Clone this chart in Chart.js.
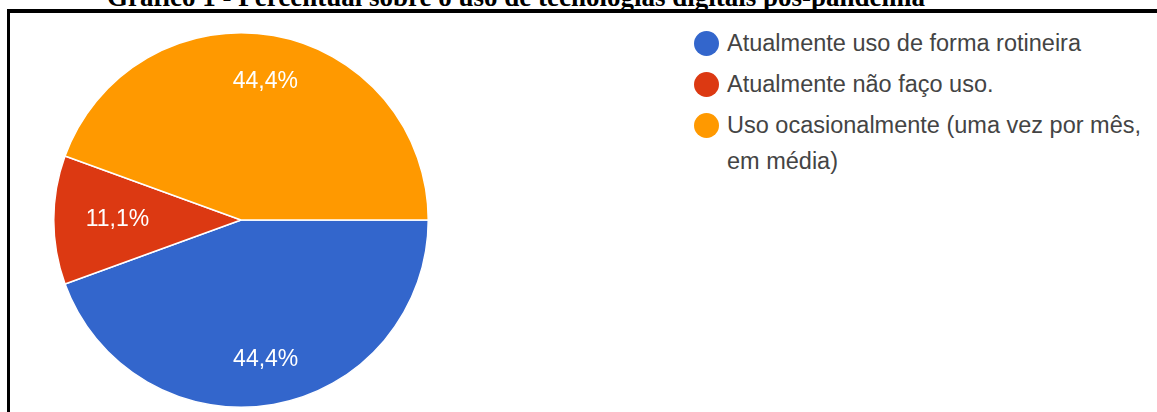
<!DOCTYPE html>
<html>
<head>
<meta charset="utf-8">
<script src="https://cdn.jsdelivr.net/npm/chart.js@4"></script>
<style>
  html, body { margin:0; padding:0; background:#fff; }
  body { width:1157px; height:412px; position:relative; overflow:hidden; }
  #title { position:absolute; left:107px; top:-18px; white-space:nowrap;
    font-family:"Liberation Serif","DejaVu Serif",serif; font-weight:bold; font-size:27px; color:#000; }
  #frame { position:absolute; left:7px; top:9px; width:1300px; height:600px;
    border-top:4px solid #000; border-left:3px solid #000; }
  #pieBox { position:absolute; left:53px; top:32px; width:376px; height:376px; }
  #legend { position:absolute; left:694px; top:25px; width:463px;
    font-family:"Liberation Sans", Arial, sans-serif; font-size:23.5px; color:#444; }
  .item { display:flex; align-items:flex-start; margin-bottom:5px; }
  .dot { width:25px; height:25px; border-radius:50%; flex:none; margin-top:5.5px; margin-right:8px; }
  .txt { line-height:36px; width:430px; }
</style>
</head>
<body>
<div id="title">Gráfico 1 - Percentual sobre o uso de tecnologias digitais pós-pandemia</div>
<div id="frame"></div>
<div id="pieBox"><canvas id="c"></canvas></div>
<div id="legend"></div>
<script>
const categories = [
  "Atualmente uso de forma rotineira",
  "Atualmente não faço uso.",
  "Uso ocasionalmente (uma vez por mês, em média)"
];
const percentages = [44.4, 11.1, 44.4];
const valueLabels = ["44,4%", "11,1%", "44,4%"];
const colors = ["#3366cc", "#dc3912", "#ff9900"];
const labelRadiusFactor = [0.76, 0.66, 0.75];

const legend = document.getElementById('legend');
categories.forEach((c, i) => {
  const it = document.createElement('div'); it.className = 'item';
  const d = document.createElement('span'); d.className = 'dot'; d.style.background = colors[i];
  const t = document.createElement('span'); t.className = 'txt'; t.textContent = c;
  it.appendChild(d); it.appendChild(t); legend.appendChild(it);
});

const sliceLabels = {
  id: 'sliceLabels',
  afterDatasetsDraw(chart) {
    const ctx = chart.ctx;
    const meta = chart.getDatasetMeta(0);
    ctx.save();
    ctx.fillStyle = '#ffffff';
    ctx.font = '23px "Liberation Sans", Arial, sans-serif';
    ctx.textAlign = 'center';
    ctx.textBaseline = 'middle';
    meta.data.forEach((arc, i) => {
      const p = arc.getProps(['x','y','startAngle','endAngle','outerRadius'], true);
      const mid = (p.startAngle + p.endAngle) / 2;
      const r = p.outerRadius * labelRadiusFactor[i];
      ctx.fillText(valueLabels[i], p.x + Math.cos(mid) * r, p.y + Math.sin(mid) * r);
    });
    ctx.restore();
  }
};

new Chart(document.getElementById('c'), {
  type: 'pie',
  data: {
    labels: categories,
    datasets: [{
      data: percentages,
      backgroundColor: colors,
      borderColor: '#ffffff',
      borderWidth: 1.5,
      hoverOffset: 0
    }]
  },
  options: {
    responsive: true,
    maintainAspectRatio: false,
    animation: false,
    rotation: 90,
    layout: { padding: 0 },
    plugins: { legend: { display: false }, tooltip: { enabled: false } }
  },
  plugins: [sliceLabels]
});
</script>
</body>
</html>
